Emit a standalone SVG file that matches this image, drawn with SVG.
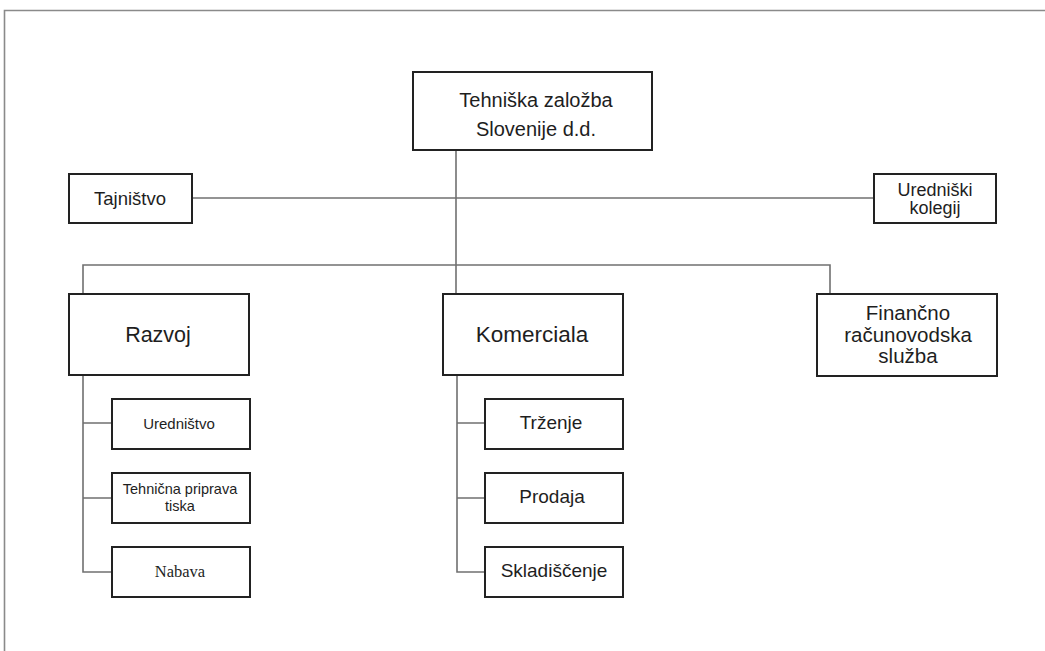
<svg xmlns="http://www.w3.org/2000/svg" width="1045" height="651" viewBox="0 0 1045 651">
<style>
.box{fill:#fff;stroke:#222;stroke-width:2}
.t{font-family:"Liberation Sans",Arial,sans-serif;fill:#1e1e1e;text-anchor:middle}
.s{font-family:"Liberation Serif","Times New Roman",serif;fill:#1e1e1e;text-anchor:middle}
.c{fill:none;stroke:#707070;stroke-width:1.6}
.frame{fill:none;stroke:#8a8a8a;stroke-width:1.6}
</style>
<rect width="1045" height="651" fill="#fff"/>
<path class="frame" d="M4.5,651 V10.5 H1045"/>
<g id="connectors">
<path class="c" d="M456,150 V294"/>
<path class="c" d="M192,198 H874"/>
<path class="c" d="M83,294 V265 H830 V294"/>
<path class="c" d="M83,375 V572 H112 M83,423 H112 M83,498 H112"/>
<path class="c" d="M457,375 V572 H485 M457,423 H485 M457,498 H485"/>
</g>
<g id="top"><rect class="box" x="413" y="72" width="239" height="78"/><text class="t" font-size="20" x="536" y="107">Tehniška založba</text><text class="t" font-size="20" x="536" y="136">Slovenije d.d.</text></g>
<g id="tajnistvo"><rect class="box" x="69" y="174" width="123" height="49"/><text class="t" font-size="18.5" x="130" y="205">Tajništvo</text></g>
<g id="uredniski"><rect class="box" x="874" y="174" width="122" height="49"/><text class="t" font-size="18" x="935" y="196">Uredniški</text><text class="t" font-size="18" x="935" y="214">kolegij</text></g>
<g id="razvoj"><rect class="box" x="69" y="294" width="180" height="81"/><text class="t" font-size="21.5" x="158" y="342">Razvoj</text></g>
<g id="komerciala"><rect class="box" x="443" y="294" width="180" height="81"/><text class="t" font-size="22.5" x="532" y="342">Komerciala</text></g>
<g id="financno"><rect class="box" x="817" y="294" width="180" height="82"/><text class="t" font-size="20.5" x="908" y="320">Finančno</text><text class="t" font-size="20.5" x="908" y="342">računovodska</text><text class="t" font-size="20.5" x="908" y="363">služba</text></g>
<g id="urednistvo"><rect class="box" x="112" y="399" width="138" height="50"/><text class="t" font-size="15" x="179" y="429">Uredništvo</text></g>
<g id="tehnicna"><rect class="box" x="112" y="473" width="138" height="50"/><text class="t" font-size="14.5" x="180" y="494">Tehnična priprava</text><text class="t" font-size="14.5" x="180" y="511">tiska</text></g>
<g id="nabava"><rect class="box" x="112" y="547" width="138" height="50"/><text class="s" font-size="16.5" x="180" y="577">Nabava</text></g>
<g id="trzenje"><rect class="box" x="485" y="399" width="138" height="50"/><text class="t" font-size="19" x="551" y="429">Trženje</text></g>
<g id="prodaja"><rect class="box" x="485" y="473" width="138" height="50"/><text class="t" font-size="19" x="552" y="503">Prodaja</text></g>
<g id="skladiscenje"><rect class="box" x="485" y="547" width="138" height="50"/><text class="t" font-size="19" x="554" y="577">Skladiščenje</text></g>
</svg>
